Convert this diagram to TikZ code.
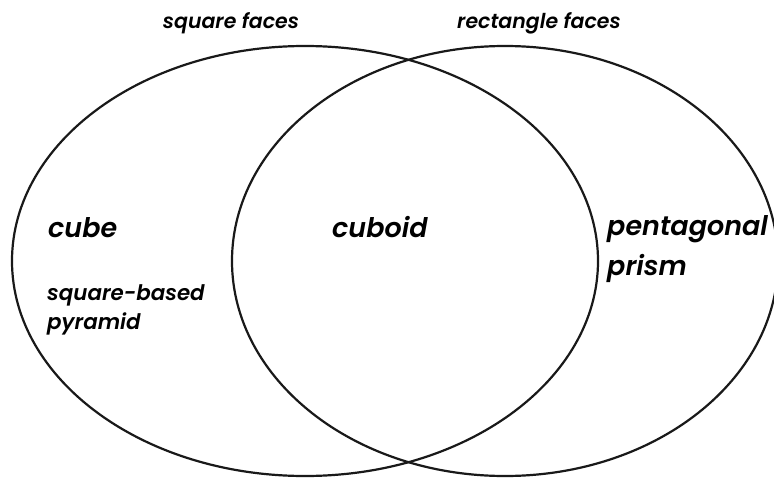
\documentclass[tikz,border=0pt]{standalone}
\usepackage{fontspec}
\setmainfont{Poppins}[ItalicFont=* SemiBold Italic]
\begin{document}
\begin{tikzpicture}[x=1pt,y=-1pt,
  venn/.style={draw=black!90,line width=2.2pt},
  biglabel/.style={anchor=base west,inner sep=0pt,font=\itshape\fontsize{27}{31}\selectfont},
  smalllabel/.style={anchor=base west,inner sep=0pt,font=\itshape\fontsize{21.4}{25}\selectfont},
  title/.style={anchor=base,inner sep=0pt,font=\itshape\fontsize{20.5}{24}\selectfont}]
\useasboundingbox (0,0) rectangle (774,479);
\draw[venn] (305,261) ellipse [x radius=293, y radius=215];
\draw[venn] (505,261) ellipse [x radius=273, y radius=215];
\node[title] (sq) at (231,28) {square faces};
\node[title] (re) at (539,28) {rectangle faces};
\node[biglabel] (cube) at (48,237) {cube};
\node[biglabel] (cuboid) at (332,237) {cuboid};
\node[biglabel] (pent) at (607,235) {pentagonal};
\node[biglabel] (prism) at (607,275) {prism};
\node[smalllabel] (sqb) at (47,300) {square-based};
\node[smalllabel] (pyr) at (47,329) {pyramid};
\end{tikzpicture}
\end{document}
